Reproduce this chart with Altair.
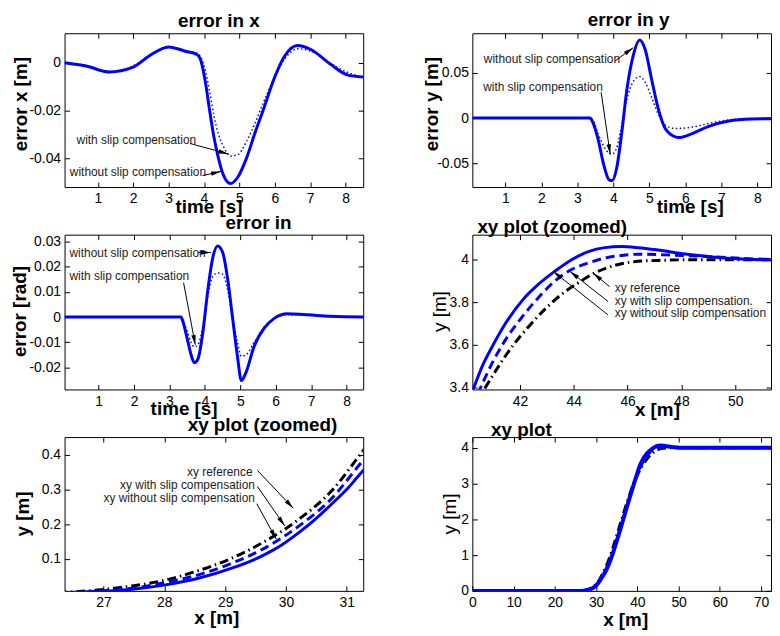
import math
import altair as alt
import pandas as pd

FONT = "Liberation Sans, Arial, Helvetica, sans-serif"
ANNOT_FONT = "Liberation Sans Narrow, Liberation Sans, Arial, sans-serif"
BLUE = "#0000ff"
TXT = "#222222"

# ---------------- panel 1: error in x ----------------
t1 = [0.06, 0.67, 1.33, 1.98, 2.45, 3.0, 3.47, 3.8, 3.92, 4.05, 4.16, 4.28, 4.41, 4.55, 4.75, 4.95, 5.2, 5.45, 5.67, 6.0, 6.28, 6.65, 7.02, 7.58, 8.05, 8.5]
ex_without = [0.0, -0.0014, -0.0039, -0.002, 0.0028, 0.0066, 0.0048, 0.0034, 0.0005, -0.009, -0.02, -0.031, -0.04, -0.047, -0.0505, -0.048, -0.04, -0.029, -0.02, -0.006, 0.0028, 0.0072, 0.0055, -0.0007, -0.0051, -0.006]
ex_with = [0.0, -0.0012, -0.0037, -0.0015, 0.0028, 0.0066, 0.005, 0.004, 0.002, -0.004, -0.012, -0.022, -0.03, -0.035, -0.039, -0.0385, -0.033, -0.025, -0.017, -0.006, 0.0015, 0.0058, 0.0048, -0.0004, -0.004, -0.0062]

# ---------------- panel 2: error in y ----------------
t2 = [0.08, 3.21, 3.35, 3.44, 3.58, 3.72, 3.88, 3.96, 4.09, 4.23, 4.37, 4.56, 4.73, 4.88, 5.07, 5.26, 5.44, 5.72, 5.81, 6.19, 6.65, 7.21, 7.86, 8.38]
ey_without = [0, 0, 0, -0.006, -0.0245, -0.05, -0.0685, -0.0696, -0.0557, -0.0172, 0.0304, 0.0707, 0.0864, 0.0762, 0.0414, 0.0084, -0.0117, -0.0209, -0.0216, -0.0172, -0.0092, -0.0033, -0.0011, -0.0007]
ey_with = [0, 0, 0, -0.003, -0.018, -0.03, -0.039, -0.04, -0.033, -0.008, 0.02, 0.041, 0.046, 0.04, 0.022, 0.003, -0.008, -0.0115, -0.0115, -0.01, -0.006, -0.002, -0.0005, -0.0003]

# ---------------- panel 3: error in theta ----------------
t3 = [0.04, 3.33, 3.37, 3.51, 3.61, 3.70, 3.80, 3.94, 4.08, 4.22, 4.36, 4.50, 4.64, 4.78, 4.92, 5.03, 5.16, 5.39, 5.67, 5.95, 6.33, 6.80, 7.55, 8.47]
eth_without = [0, 0, -0.0013, -0.009, -0.0149, -0.0181, -0.0168, -0.0065, 0.0103, 0.0233, 0.0282, 0.0258, 0.0155, 0.0, -0.0155, -0.0252, -0.022, -0.0116, -0.0045, -0.0006, 0.0013, 0.001, 0.0003, 0.0]
eth_with = [0, 0, -0.001, -0.006, -0.010, -0.0118, -0.011, -0.004, 0.008, 0.016, 0.0175, 0.017, 0.011, 0.0, -0.010, -0.0155, -0.015, -0.010, -0.004, -0.0005, 0.001, 0.0008, 0.0002, 0.0]

# ---------------- xy paths (panels 4, 5, 6) ----------------
x_ref = [0, 25.5, 26.74, 27.47, 28.02, 28.56, 29.11, 29.65, 30.2, 30.74, 31.27, 32, 33, 34, 35, 36, 37, 38, 39, 40, 40.72, 41.21, 41.71, 42.32, 42.94, 43.55, 44.17, 44.78, 45.4, 46.14, 47.12, 48.5, 72.4]
y_ref = [0, 0, 0.0077, 0.022, 0.039, 0.066, 0.102, 0.15, 0.2125, 0.294, 0.4125, 0.58, 0.85, 1.18, 1.55, 1.93, 2.3, 2.65, 2.97, 3.24, 3.4, 3.5, 3.592, 3.685, 3.769, 3.838, 3.892, 3.938, 3.969, 3.989, 3.997, 4.0, 4.0]

x_with = [0, 25.8, 26.93, 27.47, 28.02, 28.56, 29.11, 29.65, 30.2, 30.74, 31.27, 32, 33, 34, 35, 36, 37, 38, 39, 40, 40.54, 40.97, 41.46, 42.08, 42.69, 43.3, 43.92, 44.54, 45.15, 45.77, 46.38, 47.37, 48.5, 50, 51.33, 72.4]
y_with = [0, 0, 0.0077, 0.015, 0.032, 0.054, 0.0875, 0.131, 0.193, 0.272, 0.384, 0.52, 0.75, 1.06, 1.42, 1.8, 2.19, 2.57, 2.93, 3.25, 3.4, 3.515, 3.623, 3.731, 3.823, 3.9, 3.954, 3.985, 4.008, 4.02, 4.026, 4.023, 4.018, 4.008, 4.002, 4.0]

x_without = [0, 26.0, 27.09, 27.47, 28.02, 28.56, 29.11, 29.65, 29.93, 30.2, 30.47, 30.74, 31.02, 31.27, 32, 33, 34, 35, 36, 37, 38, 39, 40, 40.29, 40.6, 40.97, 41.46, 42.08, 42.69, 43.3, 43.92, 44.54, 45.15, 45.77, 46.38, 47.12, 48.13, 49.36, 51.33, 72.4]
y_without = [0, 0, 0.0077, 0.0125, 0.025, 0.044, 0.073, 0.112, 0.14, 0.174, 0.2125, 0.256, 0.304, 0.355, 0.48, 0.72, 1.03, 1.39, 1.77, 2.16, 2.55, 2.93, 3.3, 3.4, 3.5, 3.592, 3.7, 3.808, 3.885, 3.946, 4.0, 4.038, 4.057, 4.062, 4.057, 4.046, 4.027, 4.011, 4.0, 4.0]

# ---------------- annotations ----------------
p1_labels = ["with slip compensation", "without slip compensation"]
p1_label_x = [0.40, 0.21]
p1_label_y = [-0.0324, -0.0458]
p1_arrows = [(3.61, -0.0338, 4.69, -0.0382), (3.96, -0.0472, 4.48, -0.0455)]

p2_labels = ["without slip compensation", "with slip compensation"]
p2_label_x = [0.40, 0.38]
p2_label_y = [0.0652, 0.0348]
p2_arrows = [(4.05, 0.0634, 4.55, 0.078), (3.66, 0.0286, 3.91, -0.040)]

p3_labels = ["without slip compensation", "with slip compensation"]
p3_label_x = [0.18, 0.18]
p3_label_y = [0.0256, 0.0161]
p3_arrows = [(3.82, 0.0256, 4.17, 0.0256), (3.40, 0.0136, 3.73, -0.011)]

p4_labels = ["xy reference", "xy with slip compensation.", "xy without slip compensation"]
p4_label_x = [45.52, 45.52, 45.52]
p4_label_y = [3.866, 3.804, 3.749]
p4_arrows = [(45.33, 3.874, 44.72, 3.937), (45.27, 3.804, 43.86, 3.945), (45.27, 3.741, 43.24, 3.945)]

p5_labels = ["xy reference", "xy with slip compensation", "xy without slip compensation"]
p5_label_x = [29.45, 29.49, 29.49]
p5_label_y = [0.35, 0.3115, 0.275]
p5_arrows = [(29.53, 0.355, 30.12, 0.246), (29.53, 0.309, 29.98, 0.195), (29.52, 0.259, 29.84, 0.157)]

W = 301
HEAD = "M0,-1L0.45,1L-0.45,1Z"

SOLID = dict(color=BLUE, strokeWidth=3)
DOTTED = dict(color=BLUE, strokeWidth=1.5, strokeDash=[1.5, 2.5])
DASHED = dict(color=BLUE, strokeWidth=3, strokeDash=[9, 5])
DASHDOT = dict(color="black", strokeWidth=3, strokeDash=[9, 4, 1.5, 4])


def panel(lines, xdom, ydom, h, xticks, yticks, title, tdx, toff,
          xt, xtx, xty, yt, ytx, yty, ybold,
          labels=None, lx=None, ly=None, align="left", arrows=None):
    xs = alt.Scale(domain=xdom, nice=False, zero=False)
    ys = alt.Scale(domain=ydom, nice=False, zero=False)
    common = dict(offset=-5, tickSize=5, tickColor="black", domain=False, grid=False,
                  labelFont=FONT, labelFontSize=14, labelColor="black", labelFlush=False,
                  labelOverlap=False, labelExpr="'' + datum.value",
                  titleFont=FONT, titleFontSize=19, titleColor="black",
                  titleAlign="center", titleBaseline="middle", minExtent=0)
    xa = alt.Axis(orient="bottom", values=xticks, labelPadding=5, title=xt,
                  titleFontWeight="bold", titleX=xtx, titleY=xty + 5, titleAngle=0, **common)
    ya = alt.Axis(orient="left", values=yticks, labelPadding=4, title=yt,
                  titleFontWeight="bold" if ybold else "normal",
                  titleX=ytx - 5, titleY=yty, titleAngle=270, **common)
    xtop = alt.Axis(orient="top", values=xticks, offset=-5, tickSize=5, tickColor="black",
                    labels=False, domain=False, grid=False, title=None, minExtent=0, maxExtent=0)
    yright = alt.Axis(orient="right", values=yticks, offset=-5, tickSize=5, tickColor="black",
                      labels=False, domain=False, grid=False, title=None, minExtent=0, maxExtent=0)
    layers = []
    for i, (xv, yv, style) in enumerate(lines):
        df = pd.DataFrame({"x": xv, "y": yv})
        layers.append(alt.Chart(df).mark_line(clip=True, interpolate="monotone", **style).encode(
            x=alt.X("x:Q", scale=xs, axis=xa if i == 0 else None),
            y=alt.Y("y:Q", scale=ys, axis=ya if i == 0 else None)))
    df0 = pd.DataFrame({"x": lines[0][0], "y": lines[0][1]})
    layers.append(alt.Chart(df0).mark_line(strokeOpacity=0, clip=True).encode(
        x=alt.X("x:Q", scale=xs, axis=xtop), y=alt.Y("y:Q", scale=ys, axis=yright)))
    if labels:
        tdf = pd.DataFrame({"x": lx, "y": ly, "label": labels})
        layers.append(alt.Chart(tdf).mark_text(align=align, baseline="middle", font=ANNOT_FONT,
                                               fontSize=12, color=TXT).encode(
            x=alt.X("x:Q", scale=xs, axis=None), y=alt.Y("y:Q", scale=ys, axis=None),
            text="label:N"))
    if arrows:
        xr = xdom[1] - xdom[0]
        yr = ydom[1] - ydom[0]
        rows = []
        for (x1, y1, x2, y2) in arrows:
            px1 = (x1 - xdom[0]) / xr * W
            py1 = h - (y1 - ydom[0]) / yr * h
            px2 = (x2 - xdom[0]) / xr * W
            py2 = h - (y2 - ydom[0]) / yr * h
            dx, dy = px2 - px1, py2 - py1
            n = math.hypot(dx, dy)
            ang = math.degrees(math.atan2(dx, -dy)) % 360
            cx = px2 - dx / n * 5
            cy = py2 - dy / n * 5
            rows.append({"x": x1, "y": y1, "x2": x2, "y2": y2,
                         "hx": xdom[0] + cx / W * xr, "hy": ydom[0] + (h - cy) / h * yr,
                         "ang": ang})
        adf = pd.DataFrame(rows)
        layers.append(alt.Chart(adf).mark_rule(color="black", strokeWidth=1).encode(
            x=alt.X("x:Q", scale=xs, axis=None), y=alt.Y("y:Q", scale=ys, axis=None),
            x2="x2:Q", y2="y2:Q"))
        layers.append(alt.Chart(adf).mark_point(shape=HEAD, filled=True, size=100,
                                                color="black", opacity=1).encode(
            x=alt.X("hx:Q", scale=xs, axis=None), y=alt.Y("hy:Q", scale=ys, axis=None),
            angle=alt.Angle("ang:Q", scale=None)))
    return alt.layer(*layers).resolve_axis(x="independent", y="independent").properties(
        width=W, height=h,
        title=alt.TitleParams(text=title, font=FONT, fontSize=19, fontWeight="bold",
                              color="black", anchor="middle", frame="group", dx=tdx,
                              offset=toff, baseline="top"))


H1, H2, H3 = 155, 156, 155
tticks = [1, 2, 3, 4, 5, 6, 7, 8]

p1 = panel([(t1, ex_without, SOLID), (t1, ex_with, DOTTED)], [0.06, 8.5], [-0.052, 0.0123], H1,
           tticks, [-0.04, -0.02, 0], "error in x", 5, 2,
           "time [s]", 145, 20, "error x [m]", -44, 71, True,
           p1_labels, p1_label_x, p1_label_y, "left", p1_arrows)
p2 = panel([(t2, ey_without, SOLID), (t2, ey_with, DOTTED)], [0.08, 8.38], [-0.0765, 0.094], H1,
           tticks, [-0.05, 0, 0.05], "error in y", 7, 3,
           "time [s]", 219, 20, "error y [m]", -41, 71, True,
           p2_labels, p2_label_x, p2_label_y, "left", p2_arrows)
p3 = panel([(t3, eth_without, SOLID), (t3, eth_with, DOTTED)], [0.04, 8.47], [-0.0287, 0.0327], H2,
           tticks, [-0.02, -0.01, 0, 0.01, 0.02, 0.03], "error in", 45, 1,
           "time [s]", 120, 19, "error  [rad]", -45, 77, True,
           p3_labels, p3_label_x, p3_label_y, "left", p3_arrows)
p4 = panel([(x_ref, y_ref, DASHDOT), (x_with, y_with, DASHED), (x_without, y_without, SOLID)],
           [40.23, 51.33], [3.39, 4.118], H2,
           [42, 44, 46, 48, 50], [3.4, 3.6, 3.8, 4], "xy plot (zoomed)", -70, -3,
           "x [m]", 186, 20, "y [m]", -33, 77, False,
           p4_labels, p4_label_x, p4_label_y, "left", p4_arrows)
p5 = panel([(x_ref, y_ref, DASHDOT), (x_with, y_with, DASHED), (x_without, y_without, SOLID)],
           [26.36, 31.27], [0.0077, 0.451], H3,
           [27, 28, 29, 30, 31], [0.1, 0.2, 0.3, 0.4], "xy plot (zoomed)", 49, 2,
           "x [m]", 153, 27, "y [m]", -42, 77, True,
           p5_labels, p5_label_x, p5_label_y, "right", p5_arrows)
p6 = panel([(x_ref, y_ref, DASHDOT), (x_with, y_with, DASHED),
            (x_without, y_without, dict(color=BLUE, strokeWidth=4))],
           [0, 72.4], [0, 4.3], H3,
           [0, 10, 20, 30, 40, 50, 60, 70], [0, 1, 2, 3, 4], "xy plot", -101, -3,
           "x [m]", 154, 29, "y [m]", -23, 77, False)

chart = alt.concat(p1, p2, p3, p4, p5, p6, columns=2,
                   spacing={"row": 48, "column": 110}, bounds="flush").properties(
    padding={"left": 2, "top": 0, "right": 0, "bottom": 0}
).configure(font=FONT, background="white",
            view=alt.ViewConfig(stroke="black", strokeWidth=1))

chart.save("out.html", embed_options={"renderer": "svg", "actions": False})
